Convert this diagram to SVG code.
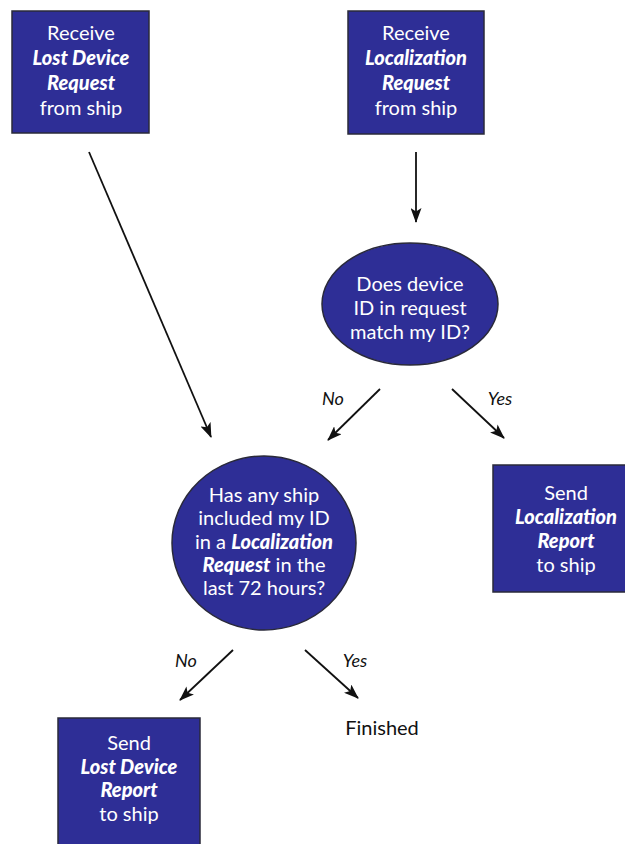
<svg xmlns="http://www.w3.org/2000/svg" width="625" height="844" viewBox="0 0 625 844">
  <style>
    .node { fill: #2e2e96; stroke: #2a2a3a; stroke-width: 1.5; }
    .t { font-family: Lato, "Noto Sans", "Liberation Sans", sans-serif; font-size: 20px; fill: #ffffff; text-anchor: middle; }
    .b { font-weight: 900; font-style: italic; }
    .lbl { font-family: Lato, "Noto Sans", "Liberation Sans", sans-serif; font-size: 18px; fill: #111111; text-anchor: middle; }
    .i { font-style: italic; }
    .edge { stroke: #111111; stroke-width: 1.8; fill: none; marker-end: url(#arrow); }
  </style>
  <defs>
    <marker id="arrow" viewBox="0 0 15 11" refX="14" refY="5.5" markerWidth="15" markerHeight="11" markerUnits="userSpaceOnUse" orient="auto">
      <path d="M0,0 L15,5.5 L0,11 L3.5,5.5 Z" fill="#111111"/>
    </marker>
  </defs>
  <rect width="625" height="844" fill="#ffffff"/>

  <g id="connectors">
    <line class="edge" x1="89" y1="152" x2="211" y2="437"/>
    <line class="edge" x1="416" y1="152" x2="416" y2="222"/>
    <line class="edge" x1="380" y1="389" x2="328" y2="440"/>
    <line class="edge" x1="452" y1="389" x2="504" y2="438"/>
    <line class="edge" x1="233" y1="650" x2="180" y2="700"/>
    <line class="edge" x1="305" y1="650" x2="358" y2="698"/>
    <text class="lbl i" x="333" y="405">No</text>
    <text class="lbl i" x="500" y="405">Yes</text>
    <text class="lbl i" x="186" y="667">No</text>
    <text class="lbl i" x="355" y="667">Yes</text>
  </g>

  <g id="receive-lost-device">
    <rect class="node" x="12" y="11" width="137" height="122"/>
    <text class="t" x="81" y="40">Receive</text>
    <text class="t b" x="81" y="65">Lost Device</text>
    <text class="t b" x="81" y="90">Request</text>
    <text class="t" x="81" y="115">from ship</text>
  </g>

  <g id="receive-localization">
    <rect class="node" x="348" y="11" width="136" height="123"/>
    <text class="t" x="416" y="40">Receive</text>
    <text class="t b" x="416" y="65">Localization</text>
    <text class="t b" x="416" y="90">Request</text>
    <text class="t" x="416" y="115">from ship</text>
  </g>

  <g id="id-match">
    <ellipse class="node" cx="410" cy="304" rx="88" ry="61"/>
    <text class="t" x="410" y="291">Does device</text>
    <text class="t" x="410" y="315">ID in request</text>
    <text class="t" x="410" y="339">match my ID?</text>
  </g>

  <g id="recent-request">
    <ellipse class="node" cx="264" cy="543" rx="92" ry="87"/>
    <text class="t" x="264" y="502">Has any ship</text>
    <text class="t" x="264" y="525">included my ID</text>
    <text class="t" x="264" y="549">in a <tspan class="b">Localization</tspan></text>
    <text class="t" x="264" y="572"><tspan class="b">Request</tspan> in the</text>
    <text class="t" x="264" y="595">last 72 hours?</text>
  </g>

  <g id="send-localization-report">
    <rect class="node" x="493" y="465" width="134" height="127"/>
    <text class="t" x="566" y="500">Send</text>
    <text class="t b" x="566" y="524">Localization</text>
    <text class="t b" x="566" y="548">Report</text>
    <text class="t" x="566" y="572">to ship</text>
  </g>

  <g id="send-lost-device-report">
    <rect class="node" x="58" y="718" width="142" height="130"/>
    <text class="t" x="129" y="750">Send</text>
    <text class="t b" x="129" y="774">Lost Device</text>
    <text class="t b" x="129" y="797">Report</text>
    <text class="t" x="129" y="821">to ship</text>
  </g>

  <g id="finished">
    <text class="lbl" x="382" y="735" style="font-size:20px">Finished</text>
  </g>
</svg>
